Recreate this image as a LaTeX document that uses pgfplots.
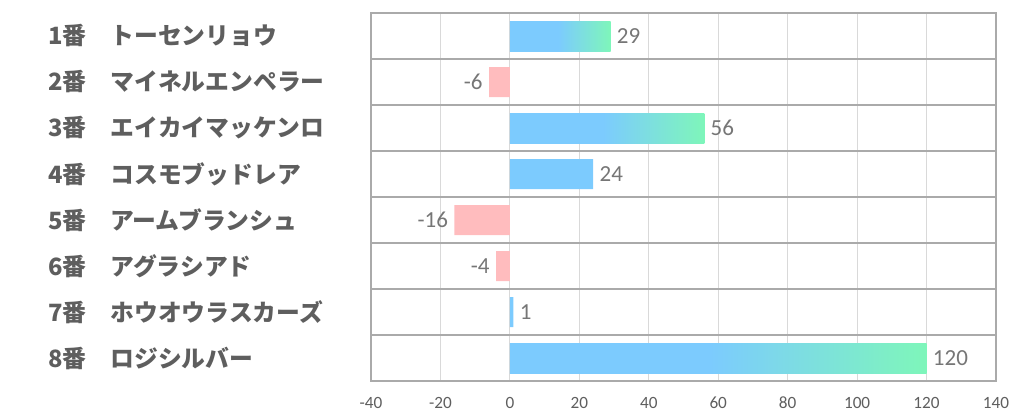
\documentclass[border=0pt]{standalone}
\usepackage{fontspec}
\setmainfont{Carlito}
\newfontfamily\jp{Noto Sans CJK JP}
\usepackage{pgfplots}
\pgfplotsset{compat=1.18}
\definecolor{cBlue}{RGB}{124,203,254}
\definecolor{cGreen}{RGB}{126,246,186}
\definecolor{cPink}{RGB}{255,188,190}
\definecolor{cGrid}{RGB}{217,217,217}
\definecolor{cSep}{RGB}{170,170,170}
\definecolor{cLab}{RGB}{94,94,94}
\definecolor{cVal}{RGB}{118,118,118}
% tikz fits the middle 50bp of a shading to the path: 25bp = bar start, 75bp = bar end
\pgfdeclarehorizontalshading{barfade}{100bp}{color(0bp)=(cBlue); color(25bp)=(cBlue); color(49bp)=(cBlue); color(75bp)=(cGreen); color(100bp)=(cGreen)}
\tikzset{rowname/.style={anchor=west, inner sep=0pt, text=cLab, xshift=-161.5pt,
  font=\jp\bfseries\fontsize{11.9}{12}\selectfont}}

\begin{document}
\begin{tikzpicture}
\useasboundingbox (0,0) rectangle (511pt,208.5pt);
\begin{axis}[
  at={(185.5pt,18pt)}, anchor=south west,
  scale only axis, width=312.5pt, height=184pt,
  xbar, bar width=15pt, bar shift=0pt,
  xmin=-40, xmax=140, ymin=0.5, ymax=8.5, y dir=reverse,
  xtick={-40,-20,...,140},
  ytick=\empty,
  extra y ticks={1.5,2.5,...,7.5},
  extra y tick labels={},
  extra y tick style={grid=major, major grid style={cSep, line width=0.6pt}, major tick length=0pt},
  xmajorgrids, major grid style={cGrid, line width=0.6pt},
  axis line style={cSep, line width=0.6pt},
  major tick length=0pt,
  tick label style={font=\fontsize{8.6}{9}\selectfont, text=cLab},
  xticklabel style={yshift=-4.5pt},
  /pgf/number format/assume math mode=true,
  clip=false,
  nodes near coords,
  every node near coord/.append style={font=\fontsize{11.5}{12}\selectfont, text=cVal, inner sep=3pt},
  pos/.style={draw=none, shade, shading=barfade, every node near coord/.append style={anchor=west}},
]
% gradient bars, one plot each so that each bar gets its own shading
\addplot[pos] coordinates {(29,1)};
\addplot[pos] coordinates {(56,3)};
\addplot[pos] coordinates {(120,8)};
% plain blue bars
\addplot[draw=none, fill=cBlue, every node near coord/.append style={anchor=west}]
  coordinates {(24,4) (1,7)};
% negative bars
\addplot[draw=none, fill=cPink, every node near coord/.append style={anchor=east}]
  coordinates {(-6,2) (-16,5) (-4,6)};

% row names
\node[rowname] at (axis cs:-40,1) {1番　トーセンリョウ};
\node[rowname] at (axis cs:-40,2) {2番　マイネルエンペラー};
\node[rowname] at (axis cs:-40,3) {3番　エイカイマッケンロ};
\node[rowname] at (axis cs:-40,4) {4番　コスモブッドレア};
\node[rowname] at (axis cs:-40,5) {5番　アームブランシュ};
\node[rowname] at (axis cs:-40,6) {6番　アグラシアド};
\node[rowname] at (axis cs:-40,7) {7番　ホウオウラスカーズ};
\node[rowname] at (axis cs:-40,8) {8番　ロジシルバー};
\end{axis}
\end{tikzpicture}
\end{document}
